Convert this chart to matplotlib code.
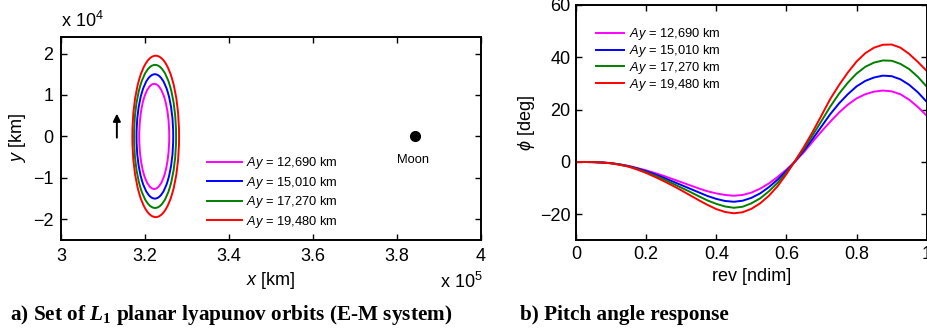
import matplotlib
matplotlib.use('Agg')
import matplotlib.pyplot as plt
from matplotlib.patches import Ellipse
from matplotlib.lines import Line2D

plt.rcParams['font.family'] = ['Liberation Sans', 'DejaVu Sans']
plt.rcParams['mathtext.fontset'] = 'custom'
plt.rcParams['mathtext.rm'] = 'Liberation Sans'
plt.rcParams['mathtext.it'] = 'Liberation Sans:italic'
plt.rcParams['mathtext.bf'] = 'Liberation Serif:bold'
plt.rcParams['mathtext.bfit'] = 'Liberation Serif:bold:italic'

# --- orbit family (km) -------------------------------------------------
AY_KM = [12690, 15010, 17270, 19480]          # y-amplitude of each orbit
AX_KM = [3570, 4370, 5000, 5560]              # x half-width
XC_KM = [322200, 322350, 322400, 322550]      # orbit centre on the x axis
MOON_X_KM = 384400
COLORS = ['#ff00ff', '#0000ff', '#008000', '#ff0000']
LABELS = [r'$Ay$ = 12,690 km', r'$Ay$ = 15,010 km',
          r'$Ay$ = 17,270 km', r'$Ay$ = 19,480 km']

# --- pitch angle response (deg) vs revolution fraction -----------------
REV = [0, .025, .05, .075, .1, .125, .15, .175, .2, .225, .25, .275, .3,
       .325, .35, .375, .4, .425, .45, .475, .5, .525, .55, .575, .6, .625,
       .65, .675, .7, .725, .75, .775, .8, .825, .85, .875, .9, .925, .95,
       .975, 1.0]
PHI_1 = [0, 0, -0.05, -0.2, -0.45, -0.9, -1.5, -2.3, -3.2, -4.2, -5.3, -6.5,
         -7.7, -8.9, -10.1, -11.2, -12.0, -12.6, -12.9, -12.6, -11.7, -10.2,
         -8.2, -5.7, -2.9, 0.2, 3.8, 7.8, 11.7, 15.4, 18.9, 21.9, 24.3, 25.9,
         26.9, 27.3, 27.0, 25.9, 23.8, 21.0, 17.7]
PHI_2 = [0, 0, -0.05, -0.2, -0.45, -0.95, -1.6, -2.5, -3.5, -4.7, -6.0, -7.4,
         -8.8, -10.2, -11.6, -13.0, -14.1, -14.9, -15.2, -14.8, -13.7, -12.0,
         -9.6, -6.7, -3.4, 0.3, 4.4, 8.9, 13.6, 18.3, 22.4, 25.9, 28.9, 31.0,
         32.3, 33.0, 32.8, 31.6, 29.5, 26.6, 23.0]
PHI_3 = [0, 0, -0.06, -0.2, -0.5, -1.0, -1.7, -2.7, -3.9, -5.2, -6.6, -8.2,
         -9.8, -11.4, -13.1, -14.7, -16.0, -17.0, -17.5, -17.1, -15.8, -13.9,
         -11.2, -7.9, -4.0, 0.4, 5.1, 10.3, 15.7, 21.2, 26.1, 30.3, 33.8,
         36.4, 38.0, 38.8, 38.7, 37.5, 35.5, 32.5, 28.8]
PHI_4 = [0, 0, -0.05, -0.2, -0.5, -1.1, -1.8, -2.9, -4.2, -5.7, -7.3, -9.0,
         -10.8, -12.7, -14.6, -16.4, -18.0, -19.1, -19.6, -19.2, -17.9, -15.8,
         -12.9, -9.2, -4.6, 0.5, 5.8, 11.6, 17.8, 24.1, 29.4, 34.2, 38.4,
         41.6, 43.7, 44.8, 44.9, 43.7, 41.3, 38.2, 34.8]
PHI = [PHI_1, PHI_2, PHI_3, PHI_4]

XS, YS = 1e5, 1e4   # axis multipliers shown as "x 10^n"

fig = plt.figure(figsize=(9.27, 3.35), dpi=100)
ax1 = fig.add_axes([0.0658, 0.2836, 0.4531, 0.606])
ax2 = fig.add_axes([0.6214, 0.2821, 0.3783, 0.703])


def matlab_style(ax, pad):
    ax.tick_params(direction='in', top=True, right=True, length=4,
                   width=1.0, labelsize=13, pad=pad)
    for s in ax.spines.values():
        s.set_linewidth(1.4)


# (a) orbits
for xc, ax_, ay, c in zip(XC_KM, AX_KM, AY_KM, COLORS):
    ax1.add_patch(Ellipse((xc / XS, 0), 2 * ax_ / XS, 2 * ay / YS,
                          fill=False, ec=c, lw=1.4))
ax1.plot([MOON_X_KM / XS], [0], 'o', color='k', ms=7)
ax1.text(MOON_X_KM / XS - 0.005, -0.56, 'Moon', fontsize=9.3,
         ha='center', va='center')
ax1.annotate('', xy=(3.133, 0.55), xytext=(3.133, -0.03),
             arrowprops=dict(arrowstyle='-|>', color='k', lw=1.4,
                             mutation_scale=11, shrinkA=0, shrinkB=0))
ax1.set_xlim(3, 4)
ax1.set_ylim(-2.5, 2.4)
ax1.set_xticks([3, 3.2, 3.4, 3.6, 3.8, 4])
ax1.set_xticklabels(['3', '3.2', '3.4', '3.6', '3.8', '4'])
ax1.set_yticks([-2, -1, 0, 1, 2])
matlab_style(ax1, 5.5)
ax1.set_xlabel(r'$x$ [km]', fontsize=13)
ax1.set_ylabel(r'$y$ [km]', fontsize=13)
ax1.xaxis.set_label_coords(0.5, -0.148)
ax1.yaxis.set_label_coords(-0.078, 0.5)
handles = [Line2D([], [], color=c, lw=1.4) for c in COLORS]
ax1.legend(handles, LABELS, loc='upper left', bbox_to_anchor=(0.347, 0.417),
           frameon=False, fontsize=9.3, handlelength=2.7, handletextpad=0.35,
           labelspacing=0.27, borderpad=0, borderaxespad=0)
fig.text(61 / 927, 1 - 27 / 335, r'x 10$^{4}$', fontsize=13,
         ha='left', va='baseline')
fig.text(440 / 927, 1 - 288 / 335, r'x 10$^{5}$', fontsize=13,
         ha='left', va='baseline')

# (b) pitch angle
for phi, c, lab in zip(PHI, COLORS, LABELS):
    ax2.plot(REV, phi, color=c, lw=1.4, label=lab)
ax2.set_xlim(0, 1)
ax2.set_ylim(-30, 60)
ax2.set_xticks([0, 0.2, 0.4, 0.6, 0.8, 1])
ax2.set_xticklabels(['0', '0.2', '0.4', '0.6', '0.8', '1'])
ax2.set_yticks([-20, 0, 20, 40, 60])
matlab_style(ax2, 4)
ax2.set_xlabel('rev [ndim]', fontsize=13)
ax2.set_ylabel(r'$\phi$ [deg]', fontsize=13)
ax2.xaxis.set_label_coords(0.5, -0.117)
ax2.yaxis.set_label_coords(-0.111, 0.5)
ax2.legend(loc='upper left', bbox_to_anchor=(0.056, 0.91), frameon=False,
           fontsize=9.3, handlelength=2.2, handletextpad=0.35,
           labelspacing=0.07, borderpad=0, borderaxespad=0)

fig.text(10 / 927, 1 - 320 / 335,
         r'a) Set of $\mathbfit{L}_{\mathbf{1}}$ planar lyapunov orbits (E-M system)',
         fontsize=15.3, family='Liberation Serif', weight='bold',
         ha='left', va='baseline')
fig.text(520 / 927, 1 - 320 / 335, 'b) Pitch angle response',
         fontsize=15.3, family='Liberation Serif', weight='bold',
         ha='left', va='baseline')

fig.savefig('out.png', dpi=100)
